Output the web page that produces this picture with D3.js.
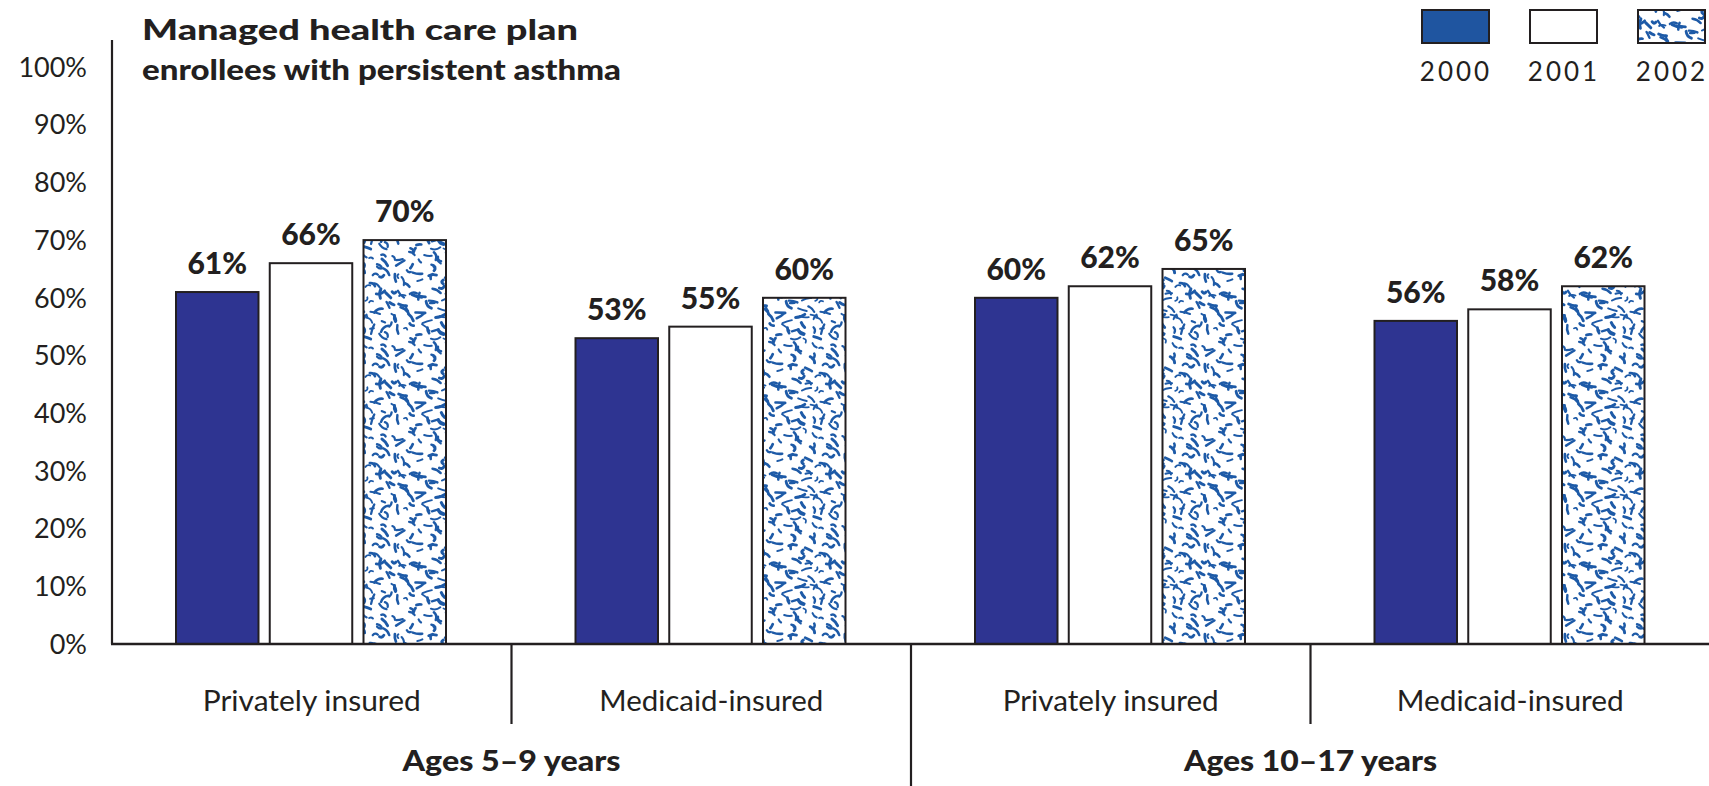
<!DOCTYPE html>
<html><head><meta charset="utf-8">
<script src="https://cdn.jsdelivr.net/npm/d3@7"></script>
<style>
html,body{margin:0;padding:0;background:#fff;}
svg{display:block;font-family:Lato,"Open Sans",sans-serif;}
</style></head>
<body>
<svg id="chart" width="1709" height="786"></svg>
<script>
// ---- data ----
const categories = ["Privately insured","Medicaid-insured","Privately insured","Medicaid-insured"];
const ageGroups = ["Ages 5\u20139 years","Ages 10\u201317 years"];
const years = ["2000","2001","2002"];
const values2000 = [61,53,60,56];
const values2001 = [66,55,62,58];
const values2002 = [70,60,65,62];
const yTicks = [0,10,20,30,40,50,60,70,80,90,100];
const titleLines = ["Managed health care plan","enrollees with persistent asthma"];

const series = [values2000, values2001, values2002];
const svg = d3.select("#chart");
const ink = "#231f20";
const barBlue = "#2e3491";
const legendBlue = "#1f55a0";
const patBlue = "#1d5aa7";

// decorative texture tile for the 2002 bars (seeded jittered grid, purely ornamental)
const T = 90, C = 9;
const defs = svg.append("defs");
const pat = defs.append("pattern").attr("id","squig").attr("patternUnits","userSpaceOnUse")
  .attr("width",T).attr("height",T);
pat.append("rect").attr("width",T).attr("height",T).attr("fill","#fff");
const rnd = d3.randomLcg(0.271);
const strokes = [];
for (let gx = 0; gx < T/C; gx++) for (let gy = 0; gy < T/C; gy++) {
  const x = gx*C + rnd()*C, yy = gy*C + rnd()*C;
  const ang = -Math.PI/2.4 + (rnd()-0.5)*Math.PI*1.4;
  const len = 3.5 + rnd()*6.5;
  const bend = (rnd()-0.5)*6;
  const dx = Math.cos(ang)*len, dy = Math.sin(ang)*len;
  const cx = dx/2 - Math.sin(ang)*bend, cy = dy/2 + Math.cos(ang)*bend;
  const w = 1.7 + rnd()*1.4;
  [-T,0,T].forEach(ox=>[-T,0,T].forEach(oy=>{
    strokes.push({d:`M${(x+ox).toFixed(1)} ${(yy+oy).toFixed(1)} q${cx.toFixed(1)} ${cy.toFixed(1)} ${dx.toFixed(1)} ${dy.toFixed(1)}`, w});
  }));
}
pat.selectAll("path").data(strokes).join("path").attr("d",d=>d.d)
  .attr("fill","none").attr("stroke",patBlue).attr("stroke-width",d=>d.w).attr("stroke-linecap","round");

const fills = [barBlue, "#fff", "url(#squig)"];
const legendFills = [legendBlue, "#fff", "url(#squig)"];

// ---- scales ----
const x0 = d3.scaleBand().domain(d3.range(categories.length)).range([112,1710]).padding(0);
const x1 = d3.scaleBand().domain(years).range([64,334]).paddingInner(0.12).paddingOuter(0);
const y = d3.scaleLinear().domain([0,100]).range([644,67]);

// ---- y tick labels ----
svg.append("g").selectAll("text").data(yTicks).join("text")
  .attr("x",87).attr("y",d=>y(d)).attr("dy","0.36em")
  .attr("text-anchor","end").attr("font-size",27).attr("fill",ink)
  .text(d=>d+"%");

// ---- bars ----
const catWidths = [218,224,216,227];
const g = svg.append("g");
categories.forEach((c,i)=>{
  years.forEach((yr,k)=>{
    const v = series[k][i];
    const bx = x0(i)+x1(yr);
    g.append("rect").attr("x",bx).attr("y",y(v)).attr("width",x1.bandwidth())
      .attr("height",y(0)-y(v)).attr("fill",fills[k]).attr("stroke",ink).attr("stroke-width",2);
    g.append("text").attr("x",bx+x1.bandwidth()/2).attr("y",y(v)-18)
      .attr("text-anchor","middle").attr("font-size",30).attr("font-weight",900).attr("fill",ink)
      .text(v+"%");
  });
  svg.append("text").attr("x",x0(i)+x0.bandwidth()/2).attr("y",711)
    .attr("text-anchor","middle").attr("font-size",28).attr("fill",ink)
    .attr("textLength",catWidths[i]).attr("lengthAdjust","spacingAndGlyphs").text(c);
});

// ---- axes lines ----
svg.append("line").attr("x1",112).attr("x2",112).attr("y1",40).attr("y2",y(0))
  .attr("stroke",ink).attr("stroke-width",2.2);
svg.append("line").attr("x1",111).attr("x2",1709).attr("y1",y(0)).attr("y2",y(0))
  .attr("stroke",ink).attr("stroke-width",2.6);

// dividers
[1,2,3].forEach(i=>{
  svg.append("line").attr("x1",x0(i)).attr("x2",x0(i)).attr("y1",y(0))
    .attr("y2", i===2 ? 786 : 724).attr("stroke",ink).attr("stroke-width",2.2);
});

// age group labels
const ageWidths = [218,253];
ageGroups.forEach((a,j)=>{
  svg.append("text").attr("x",x0(2*j+1)).attr("y",771).attr("text-anchor","middle")
    .attr("font-size",29).attr("font-weight",900).attr("fill",ink)
    .attr("textLength",ageWidths[j]).attr("lengthAdjust","spacingAndGlyphs").text(a);
});

// title
const titleWidths = [436,479];
svg.append("g").selectAll("text").data(titleLines).join("text")
  .attr("x",142).attr("y",(d,i)=>40+i*40).attr("font-size",29).attr("font-weight",900)
  .attr("fill",ink).attr("textLength",(d,i)=>titleWidths[i])
  .attr("lengthAdjust","spacingAndGlyphs").text(d=>d);

// legend
const lx = [1422,1530,1638];
years.forEach((yr,k)=>{
  svg.append("rect").attr("x",lx[k]).attr("y",10).attr("width",67).attr("height",33)
    .attr("fill",legendFills[k]).attr("stroke",ink).attr("stroke-width",2);
  svg.append("text").attr("x",lx[k]+34).attr("y",81).attr("text-anchor","middle")
    .attr("font-size",26).attr("letter-spacing",3).attr("fill",ink).text(yr);
});
</script>
</body></html>
